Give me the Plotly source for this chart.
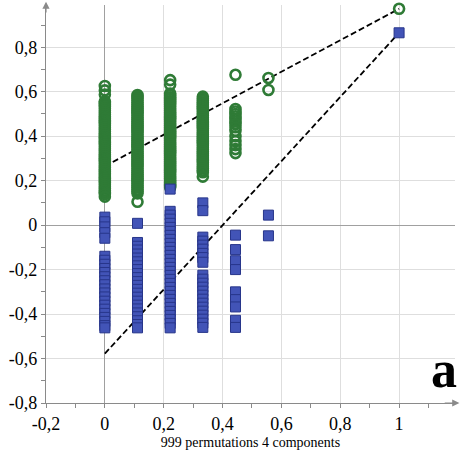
import plotly.graph_objects as go

# x positions of permutation groups (correlation with original y)
x_groups = [0.0, 0.111, 0.222, 0.333, 0.444, 0.556, 1.0]

# R2 values (green circles) per group
r2_c0 = [0.626, 0.606, 0.587, 0.556, 0.549, 0.540, 0.532, 0.524, 0.515, 0.507, 0.498, 0.489,
         0.481, 0.472, 0.464, 0.455, 0.447, 0.438, 0.430, 0.421, 0.412, 0.404, 0.395, 0.387,
         0.378, 0.370, 0.361, 0.353, 0.344, 0.336, 0.327, 0.318, 0.310, 0.301, 0.293, 0.284,
         0.276, 0.267, 0.259, 0.250, 0.242, 0.233, 0.225, 0.216, 0.208, 0.199, 0.190, 0.182,
         0.173, 0.165, 0.156, 0.148, 0.140, 0.128]
r2_c1 = [0.585, 0.577, 0.568, 0.560, 0.551, 0.543, 0.534, 0.526, 0.517, 0.509, 0.500, 0.492,
         0.483, 0.475, 0.466, 0.458, 0.449, 0.441, 0.432, 0.424, 0.415, 0.407, 0.398, 0.390,
         0.381, 0.373, 0.364, 0.356, 0.347, 0.339, 0.330, 0.322, 0.313, 0.305, 0.296, 0.288,
         0.279, 0.271, 0.262, 0.254, 0.245, 0.237, 0.228, 0.220, 0.211, 0.203, 0.194, 0.186,
         0.177, 0.169, 0.160, 0.152, 0.143, 0.105]
r2_c2 = [0.652, 0.632, 0.592, 0.584, 0.575, 0.567, 0.558, 0.550, 0.541, 0.533, 0.524, 0.516,
         0.507, 0.499, 0.490, 0.482, 0.473, 0.465, 0.456, 0.448, 0.439, 0.431, 0.422, 0.414,
         0.405, 0.397, 0.388, 0.380, 0.371, 0.363, 0.354, 0.346, 0.337, 0.329, 0.320, 0.312,
         0.303, 0.295, 0.286, 0.278, 0.269, 0.261, 0.252, 0.244, 0.235, 0.227, 0.218, 0.210,
         0.201, 0.193, 0.184, 0.176, 0.170]
r2_c3 = [0.578, 0.569, 0.561, 0.552, 0.544, 0.535, 0.527, 0.518, 0.510, 0.501, 0.493, 0.484,
         0.476, 0.467, 0.459, 0.450, 0.442, 0.433, 0.425, 0.416, 0.408, 0.399, 0.391, 0.382,
         0.374, 0.365, 0.357, 0.348, 0.340, 0.331, 0.323, 0.314, 0.306, 0.297, 0.289, 0.280,
         0.272, 0.263, 0.255, 0.246, 0.238, 0.218]
r2_c4 = [0.676, 0.522, 0.511, 0.500, 0.489, 0.477, 0.466, 0.455, 0.440, 0.424, 0.400, 0.378,
         0.360, 0.342, 0.324]
r2_c5 = [0.662, 0.608]
r2_c6 = [0.973]

# Q2 values (blue squares) per group
q2_c0 = [0.036, 0.015, -0.008, -0.034, -0.059, -0.140, -0.158, -0.176, -0.195, -0.213, -0.232,
         -0.250, -0.268, -0.287, -0.305, -0.323, -0.342, -0.360, -0.378, -0.397, -0.415, -0.433,
         -0.452, -0.462]
q2_c1 = [0.008, -0.078, -0.095, -0.112, -0.130, -0.148, -0.165, -0.183, -0.200, -0.218, -0.236,
         -0.254, -0.271, -0.289, -0.306, -0.324, -0.342, -0.360, -0.377, -0.395, -0.412, -0.430,
         -0.447, -0.462]
q2_c2 = [0.162, 0.062, 0.045, 0.027, 0.008, -0.010, -0.028, -0.046, -0.064, -0.082, -0.100,
         -0.118, -0.136, -0.154, -0.172, -0.190, -0.208, -0.226, -0.244, -0.262, -0.280, -0.298,
         -0.316, -0.334, -0.352, -0.370, -0.388, -0.406, -0.424, -0.442, -0.462]
q2_c3 = [0.100, 0.065, -0.054, -0.072, -0.090, -0.108, -0.127, -0.146, -0.167, -0.225, -0.243,
         -0.261, -0.279, -0.297, -0.315, -0.333, -0.351, -0.369, -0.387, -0.405, -0.423, -0.441,
         -0.460]
q2_c4 = [-0.045, -0.110, -0.160, -0.200, -0.300, -0.335, -0.368, -0.428, -0.460]
q2_c5 = [0.045, -0.048]
q2_c6 = [0.865]

# regression line intercepts (at x=0) and end points (at x=1)
r2_line_x = [0.0, 1.0]
r2_line_y = [0.265, 0.973]
q2_line_x = [0.0, 1.0]
q2_line_y = [-0.578, 0.865]

x_tickvals = [-0.2, 0, 0.2, 0.4, 0.6, 0.8, 1]
x_ticktext = ["-0,2", "0", "0,2", "0,4", "0,6", "0,8", "1"]
y_tickvals = [-0.8, -0.6, -0.4, -0.2, 0, 0.2, 0.4, 0.6, 0.8]
y_ticktext = ["-0,8", "-0,6", "-0,4", "-0,2", "0", "0,2", "0,4", "0,6", "0,8"]

r2_groups = [r2_c0, r2_c1, r2_c2, r2_c3, r2_c4, r2_c5, r2_c6]
q2_groups = [q2_c0, q2_c1, q2_c2, q2_c3, q2_c4, q2_c5, q2_c6]

r2_x, r2_y = [], []
for xv, vals in zip(x_groups, r2_groups):
    r2_x += [xv] * len(vals)
    r2_y += vals
q2_x, q2_y = [], []
for xv, vals in zip(x_groups, q2_groups):
    q2_x += [xv] * len(vals)
    q2_y += vals

fig = go.Figure()
fig.add_trace(go.Scatter(x=r2_line_x, y=r2_line_y, mode="lines",
                         line=dict(color="black", width=1.8, dash="6px,3px"), showlegend=False))
fig.add_trace(go.Scatter(x=q2_line_x, y=q2_line_y, mode="lines",
                         line=dict(color="black", width=1.8, dash="6px,3px"), showlegend=False))
fig.add_trace(go.Scatter(x=r2_x, y=r2_y, mode="markers",
                         marker=dict(symbol="circle-open", size=10, color="#2f7b36",
                                     line=dict(width=2.6, color="#2f7b36")),
                         showlegend=False, cliponaxis=False))
fig.add_trace(go.Scatter(x=q2_x, y=q2_y, mode="markers",
                         marker=dict(symbol="square", size=10, color="#4254b7",
                                     line=dict(width=1, color="#27358a")),
                         showlegend=False, cliponaxis=False))

serif = "Liberation Serif"
axis_col = "#8a8a8a"

fig.update_xaxes(range=[-0.2, 1.19], tickmode="array", tickvals=x_tickvals, ticktext=x_ticktext,
                 showline=True, linecolor=axis_col, linewidth=1.2,
                 showgrid=True, gridcolor="#dedede", gridwidth=1,
                 zeroline=True, zerolinecolor="#a0a0a0", zerolinewidth=1.2,
                 ticks="outside", ticklen=4, tickcolor=axis_col,
                 minor=dict(tickmode="linear", tick0=0, dtick=0.1, ticks="outside", ticklen=4,
                            tickcolor=axis_col, showgrid=False),
                 tickfont=dict(family=serif, size=18, color="black"),
                 title=dict(text="999 permutations 4 components",
                            font=dict(family=serif, size=14, color="black"), standoff=4))
fig.update_yaxes(range=[-0.8, 0.99], tickmode="array", tickvals=y_tickvals, ticktext=y_ticktext,
                 showline=True, linecolor=axis_col, linewidth=1.2,
                 showgrid=True, gridcolor="#dedede", gridwidth=1,
                 zeroline=True, zerolinecolor="#a0a0a0", zerolinewidth=1.2,
                 ticks="outside", ticklen=4, tickcolor=axis_col,
                 minor=dict(tickmode="linear", tick0=0, dtick=0.1, ticks="outside", ticklen=4,
                            tickcolor=axis_col, showgrid=False),
                 tickfont=dict(family=serif, size=18, color="black"))

fig.add_annotation(x=-0.2, y=1.005, ax=-0.2, ay=0.95, xref="x", yref="y", axref="x", ayref="y",
                   text="", showarrow=True, arrowhead=2, arrowsize=1.2, arrowwidth=1.2,
                   arrowcolor=axis_col)
fig.add_annotation(x=1.205, y=-0.8, ax=1.15, ay=-0.8, xref="x", yref="y", axref="x", ayref="y",
                   text="", showarrow=True, arrowhead=2, arrowsize=1.2, arrowwidth=1.2,
                   arrowcolor=axis_col)
fig.add_annotation(x=0.973, y=0.083, xref="paper", yref="paper", text="<b>a</b>",
                   showarrow=False, xanchor="center", yanchor="middle",
                   font=dict(family=serif, size=52, color="black"))

fig.update_layout(width=461, height=454, margin=dict(l=46, r=6, t=5, b=51),
                  font=dict(family=serif, color="black"),
                  plot_bgcolor="white", paper_bgcolor="white")

fig.write_html("out.html")
